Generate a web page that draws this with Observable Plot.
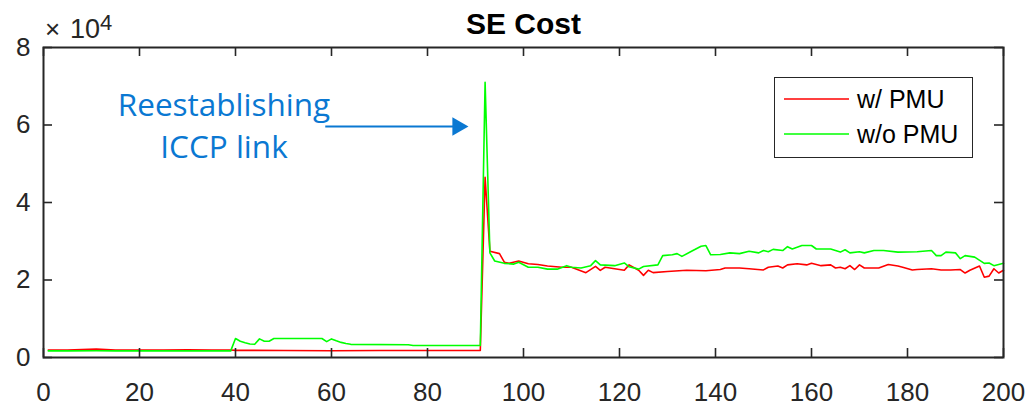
<!DOCTYPE html>
<html>
<head>
<meta charset="utf-8">
<script src="https://cdn.jsdelivr.net/npm/d3@7"></script>
<script src="https://cdn.jsdelivr.net/npm/@observablehq/plot@0.6"></script>
<style>
  html, body { margin: 0; padding: 0; background: #fff; }
</style>
</head>
<body>
<div id="chart"></div>
<script>
// ---- Data ----
const titleText = "SE Cost";
const seriesNames = ["w/ PMU", "w/o PMU"];
const seriesColors = ["#ff0000", "#00ff00"];
const xTicks = [0, 20, 40, 60, 80, 100, 120, 140, 160, 180, 200];
const yTicks = [0, 20000, 40000, 60000, 80000];
const yExponent = "4";

const redX = [1,5,11,15,20,25,30,35,39,40,50,60,70,80,91,92,93,95,96,97,99,101,103,105,108,110,113,115,116,117,118,121,122,124,125,126,127,130,134,138,141,142,145,147,150,151,153,154,155,157,159,160,162,164,165,166,167,168,169,170,171,174,176,178,179,181,182,185,187,189,191,192,193,195,196,197,198,199,200];
const redY = [1950,1950,2150,1950,1900,1950,2000,1950,1950,1850,1800,1750,1800,1800,1800,46500,27400,26800,24600,24300,24900,24200,24000,23600,23300,23300,21900,23500,22500,23300,23100,22500,23900,22500,21200,22500,21900,22200,22500,22400,22700,23100,23100,22900,22600,23300,23600,23100,23900,24200,23900,24300,23700,23900,23100,23300,22900,23700,22700,23900,23100,23100,24000,23600,23300,22600,22700,22900,22600,22600,22700,21800,22500,23600,20700,21000,22900,21800,22500];

const greenX = [1,5,11,15,20,30,39,40,41,42,43,44,45,46,47,48,49,58,59,60,61,62,63,64,76,77,91,92,93,94,96,98,99,101,103,105,107,109,110,112,114,115,116,119,121,122,124,125,128,129,131,132,133,135,137,138,139,141,143,145,147,149,150,151,152,154,155,156,158,160,161,164,165,166,167,168,170,171,173,175,178,182,185,186,187,188,190,191,192,194,196,197,198,200];
const greenY = [1700,1700,1750,1700,1700,1700,1700,4900,4200,3800,3500,3400,4800,4200,4200,4900,4900,4900,4100,4800,4300,3900,3600,3400,3300,3100,3100,71000,27000,24900,24300,24100,24600,23300,23300,22800,22800,23700,23300,23100,23700,25000,23900,23700,24400,23400,22800,23500,23900,26300,26500,26800,26100,27400,28700,28900,26500,26600,27000,26800,27400,27000,27600,27300,27900,27600,28600,28000,28900,28900,28000,28000,27600,27200,27800,27000,27300,27000,27600,27600,27200,27300,27600,26300,26300,27200,27000,25500,26300,25900,24300,24400,23700,24300];

// annotation (data coordinates)
const annotLines = ["Reestablishing", "ICCP link"];
const annotX = [37.6, 37.6];
const annotY = [64800, 54000];
const arrowStart = {x: 58.7, y: 59600};
const arrowEnd = {x: 86.3, y: 59600};

// ---- Build ----
const zip = (xs, ys, s) => xs.map((x, i) => ({x, y: ys[i], s}));
const red = zip(redX, redY, seriesNames[0]);
const green = zip(greenX, greenY, seriesNames[1]);
const annot = annotLines.map((t, i) => ({t, x: annotX[i], y: annotY[i]}));

const W = 1030, H = 406, ML = 43, MR = 27, MT = 47, MB = 49;
const fw = W - ML - MR, fh = H - MT - MB;
const ink = "#262626";
const font = "'Liberation Sans', Arial, Helvetica, sans-serif";
const blue = "#0a78d2";

const chart = Plot.plot({
  width: W, height: H,
  marginLeft: ML, marginRight: MR, marginTop: MT, marginBottom: MB,
  style: {fontFamily: font, fontSize: "26px", color: ink, background: "#fff", overflow: "visible"},
  x: {domain: [0, 200]},
  y: {domain: [0, 80000]},
  marks: [
    Plot.axisX(xTicks, {tickSize: 0, tickPadding: 25, fontSize: 26, label: null, fill: ink}),
    Plot.axisY(yTicks, {tickSize: 0, tickPadding: 13, fontSize: 26, label: null, fill: ink, tickFormat: d => d / 1e4}),
    Plot.line(red, {x: "x", y: "y", stroke: seriesColors[0], strokeWidth: 1.6}),
    Plot.line(green, {x: "x", y: "y", stroke: seriesColors[1], strokeWidth: 1.6}),
    Plot.tickX(xTicks, {x: d => d, insetTop: fh - 9, stroke: ink, strokeWidth: 1.6}),
    Plot.tickX(xTicks, {x: d => d, insetBottom: fh - 9, stroke: ink, strokeWidth: 1.6}),
    Plot.tickY(yTicks, {y: d => d, insetRight: fw - 9, stroke: ink, strokeWidth: 1.6}),
    Plot.tickY(yTicks, {y: d => d, insetLeft: fw - 9, stroke: ink, strokeWidth: 1.6}),
    Plot.frame({stroke: ink, strokeWidth: 2}),
    Plot.text([titleText], {frameAnchor: "top", lineAnchor: "middle", dy: -23, fontSize: 30, fontWeight: "bold", fill: "#000", fontFamily: font}),
    Plot.text(annot, {x: "x", y: "y", text: "t", fill: blue, fontSize: 31.5, fontFamily: "'Open Sans', Lato, sans-serif", textAnchor: "middle"}),
    Plot.link([arrowStart], {x1: "x", y1: "y", x2: () => arrowEnd.x, y2: () => arrowEnd.y, stroke: blue, strokeWidth: 2}),
    Plot.dot([arrowEnd], {x: "x", y: "y", symbol: "triangle", r: 6.9, fill: blue, stroke: null, rotate: 90})
  ]
});

const svg = d3.select(chart);
// exponent label
const ex = svg.append("text").attr("fill", ink).attr("font-family", font).attr("text-anchor", "start");
ex.append("tspan").attr("x", 45).attr("y", 38).attr("font-size", 26).text("\u00d7");
ex.append("tspan").attr("x", 70).attr("y", 38).attr("font-size", 27).text("10");
ex.append("tspan").attr("x", 100).attr("y", 30).attr("font-size", 22).text(yExponent);

// legend
const lg = svg.append("g").attr("font-family", font).attr("text-anchor", "start");
lg.append("rect").attr("x", 774.5).attr("y", 77.5).attr("width", 198).attr("height", 80)
  .attr("fill", "#fff").attr("stroke", ink).attr("stroke-width", 1);
seriesNames.forEach((name, i) => {
  const yy = 99 + i * 35;
  lg.append("line").attr("x1", 784).attr("x2", 849).attr("y1", yy).attr("y2", yy)
    .attr("stroke", seriesColors[i]).attr("stroke-width", 1.6);
  lg.append("text").attr("x", 857).attr("y", yy).attr("dy", "0.35em")
    .attr("font-size", 25).attr("fill", "#000").text(name);
});

document.getElementById("chart").appendChild(chart);
</script>
</body>
</html>
